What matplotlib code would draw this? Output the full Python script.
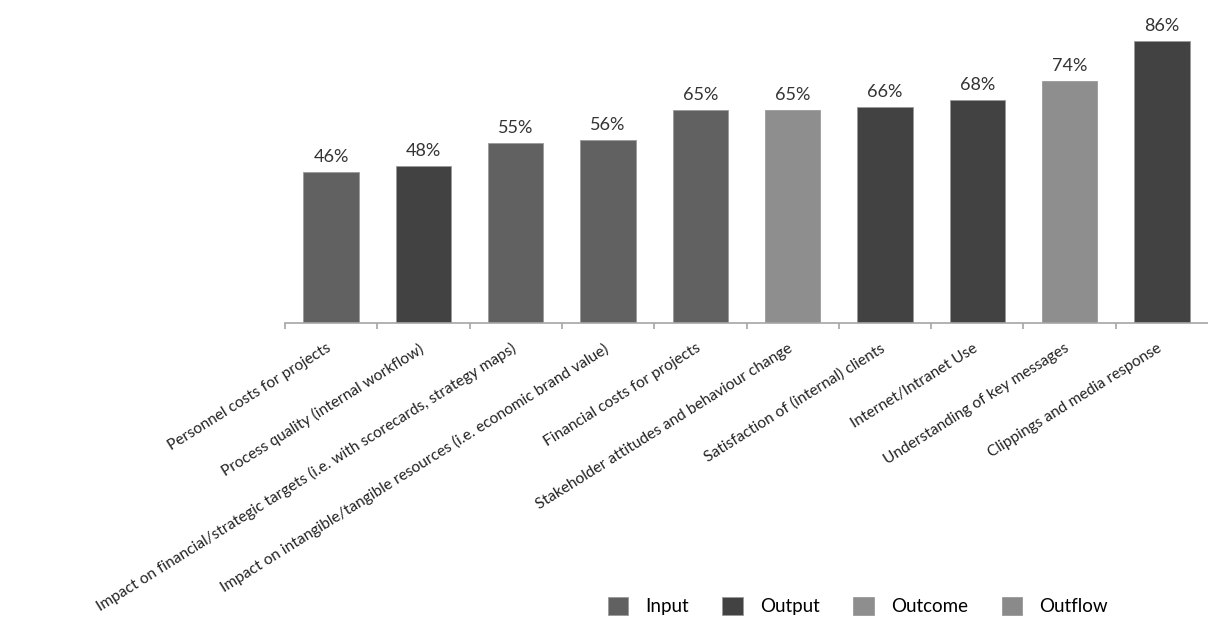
import matplotlib.pyplot as plt
import matplotlib.transforms as mtransforms
from matplotlib.patches import Patch
import numpy as np

categories = [
    "Personnel costs for projects",
    "Process quality (internal workflow)",
    "Impact on financial/strategic targets (i.e. with scorecards, strategy maps)",
    "Impact on intangible/tangible resources (i.e. economic brand value)",
    "Financial costs for projects",
    "Stakeholder attitudes and behaviour change",
    "Satisfaction of (internal) clients",
    "Internet/Intranet Use",
    "Understanding of key messages",
    "Clippings and media response",
]
values = [46, 48, 55, 56, 65, 65, 66, 68, 74, 86]
groups = ["Input", "Output", "Input", "Input", "Input",
          "Outcome", "Output", "Output", "Outcome", "Output"]
legend_labels = ["Input", "Output", "Outcome", "Outflow"]

colors = {"Input": "#616161", "Output": "#424242",
          "Outcome": "#8e8e8e", "Outflow": "#8a8a8a"}

plt.rcParams['font.family'] = ['Lato', 'DejaVu Sans']

fig = plt.figure(figsize=(12.08, 6.36), dpi=100)
ax = fig.add_axes([285 / 1208, 313 / 636, 923 / 1208, 323 / 636])

x = np.arange(len(categories))
ax.bar(x, values, width=0.6, color=[colors[g] for g in groups],
       edgecolor="#9a9a9a", linewidth=0.6)

for xi, v in zip(x, values):
    ax.annotate(f"{v}%", (xi, v), xytext=(0, 5), textcoords="offset points",
                ha="center", va="bottom", fontsize=13, color="#333333")

ax.set_xlim(-0.5, len(categories) - 0.5)
ax.set_ylim(0, 98.6)
ax.set_yticks([])
for s in ["top", "right", "left"]:
    ax.spines[s].set_visible(False)
ax.spines["bottom"].set_color("#a6a6a6")
ax.spines["bottom"].set_linewidth(1.2)

ax.set_xticks(x)
ax.set_xticklabels(categories, rotation=32, ha="right", rotation_mode="anchor",
                   fontsize=11.2, color="#222222")
ax.tick_params(axis="x", which="major", length=0, pad=13)
shift = mtransforms.ScaledTranslation(-5 / 100, 0, fig.dpi_scale_trans)
for lbl in ax.get_xticklabels():
    lbl.set_transform(lbl.get_transform() + shift)
ax.set_xticks(np.arange(-0.5, len(categories) - 0.5), minor=True)
ax.tick_params(axis="x", which="minor", length=4, color="#a6a6a6", width=1.2)

handles = [Patch(facecolor=colors[g], edgecolor="#9a9a9a", linewidth=0.6)
           for g in legend_labels]
fig.legend(handles, legend_labels, loc="center", bbox_to_anchor=(0.71, 0.047),
           ncol=4, frameon=False, fontsize=13.5, handlelength=1.1,
           handleheight=1.1, columnspacing=1.8, handletextpad=0.9)

fig.savefig("out.png", dpi=100)
